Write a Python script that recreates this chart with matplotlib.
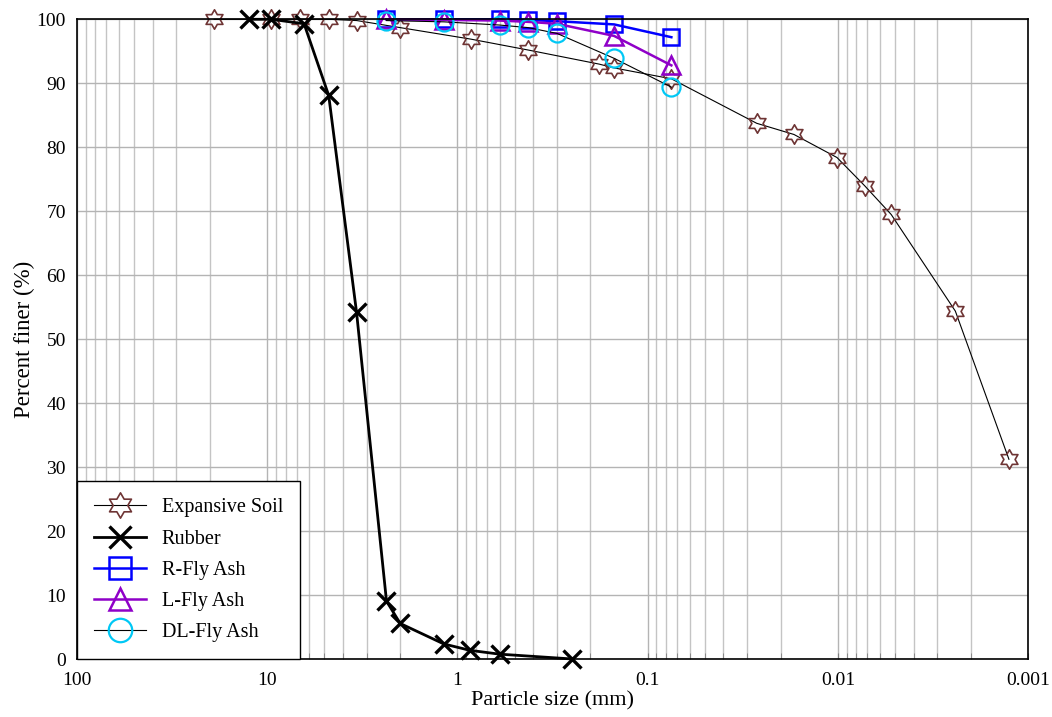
import matplotlib
matplotlib.use("Agg")
import matplotlib.pyplot as plt
from matplotlib.path import Path
from matplotlib.ticker import FixedLocator, FuncFormatter, LogLocator, NullFormatter
import numpy as np

# ---- data ----
soil_size = [19, 9.5, 6.7, 4.75, 3.38, 2.0, 0.85, 0.425, 0.18, 0.15, 0.075,
             0.0267, 0.0170, 0.0101, 0.00723, 0.00524, 0.00241, 0.00126]
soil_pass = [100, 100, 100, 100, 99.8, 98.7, 96.9, 95.2, 93.0, 92.4, 90.7,
             83.75, 82.0, 78.4, 74.0, 69.5, 54.4, 31.25]

rubber_size = [12.5, 9.5, 6.4, 4.75, 3.39, 2.36, 2.0, 1.18, 0.86, 0.6, 0.25]
rubber_pass = [100, 100, 99.3, 88.1, 54.2, 9.1, 5.6, 2.4, 1.4, 0.8, 0.05]

fly_size = [2.36, 1.18, 0.6, 0.425, 0.3, 0.15, 0.075]
r_fly_pass = [100, 100, 100, 99.9, 99.7, 99.2, 97.2]
l_fly_pass = [100, 99.9, 99.8, 99.6, 99.3, 97.4, 92.8]
dl_fly_pass = [99.8, 99.6, 99.1, 98.7, 97.8, 93.9, 89.4]

series_names = ["Expansive Soil", "Rubber", "R-Fly Ash", "L-Fly Ash", "DL-Fly Ash"]
x_tick_values = [100, 10, 1, 0.1, 0.01, 0.001]
x_tick_labels = ["100", "10", "1", "0.1", "0.01", "0.001"]
y_ticks = list(range(0, 101, 10))

plt.rcParams['font.family'] = ['Liberation Serif', 'DejaVu Serif']

fig = plt.figure(figsize=(10.52, 7.17), dpi=100)
ax = fig.add_axes([0.0732, 0.0805, 0.904, 0.8926])

hexagram = Path.unit_regular_star(6, innerCircle=0.577)

common = dict(clip_on=False)
ax.plot(soil_size, soil_pass, color='black', lw=0.8, marker=hexagram, ms=14,
        mec='#6e3434', mfc='none', mew=1.2, label=series_names[0], zorder=3, **common)
ax.plot(rubber_size, rubber_pass, color='black', lw=2.0, marker='x', ms=12.5,
        mec='black', mew=2.4, label=series_names[1], zorder=4, **common)
ax.plot(fly_size, r_fly_pass, color='#0000ff', lw=1.8, marker='s', ms=12,
        mec='#0000ff', mfc='none', mew=1.8, label=series_names[2], zorder=5, **common)
ax.plot(fly_size, l_fly_pass, color='#8f00c8', lw=1.8, marker='^', ms=12.5,
        mec='#8f00c8', mfc='none', mew=1.8, label=series_names[3], zorder=6, **common)
ax.plot(fly_size, dl_fly_pass, color='black', lw=0.8, marker='o', ms=13,
        mec='#00c8f5', mfc='none', mew=1.6, label=series_names[4], zorder=7, **common)

ax.set_xscale('log')
ax.set_xlim(100, 0.001)
ax.set_ylim(0, 100)

def fmt(v, p):
    idx = int(np.argmin([abs(np.log10(t) - np.log10(v)) for t in x_tick_values]))
    return x_tick_labels[idx]

ax.xaxis.set_major_locator(FixedLocator(x_tick_values))
ax.xaxis.set_major_formatter(FuncFormatter(fmt))
ax.xaxis.set_minor_locator(LogLocator(base=10, subs=np.arange(2, 10), numticks=50))
ax.xaxis.set_minor_formatter(NullFormatter())
ax.set_yticks(y_ticks)

ax.grid(True, which='major', axis='both', color='#b4b4b4', lw=1.0)
ax.grid(True, which='minor', axis='x', color='#c4c4c4', lw=1.0)
ax.set_axisbelow(True)

ax.tick_params(axis='x', which='both', direction='in', length=4, color='#808080',
               labelsize=14, pad=9)
ax.tick_params(axis='y', which='both', length=0, labelsize=14, pad=8)
for s in ax.spines.values():
    s.set_color('black')
    s.set_linewidth(1.2)
    s.set_zorder(8)

ax.set_xlabel("Particle size (mm)", fontsize=16, labelpad=2)
ax.set_ylabel("Percent finer (%)", fontsize=16.5, labelpad=1)

leg = ax.legend(loc='lower left', borderaxespad=0, fancybox=False, framealpha=1,
                edgecolor='black', fontsize=14.5, handlelength=2.6, handletextpad=0.75,
                labelspacing=0.6, borderpad=0.85, markerscale=1.3)
leg.get_frame().set_linewidth(1.0)
leg.set_zorder(10)

fig.savefig("out.png", dpi=100)
